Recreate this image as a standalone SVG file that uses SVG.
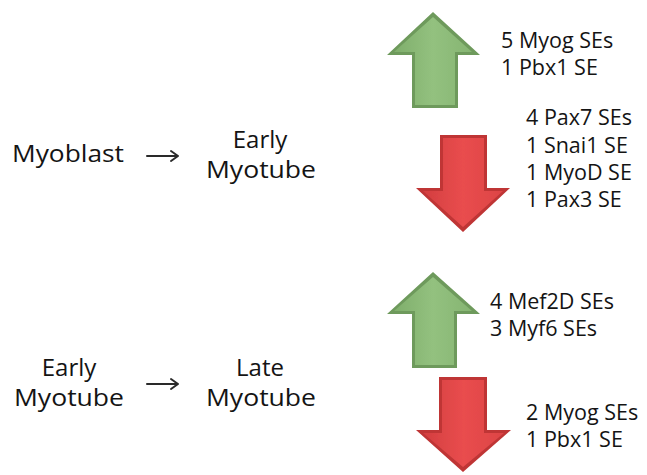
<svg xmlns="http://www.w3.org/2000/svg" width="647" height="475" viewBox="0 0 647 475">
  <defs>
    <linearGradient id="gGreen" x1="0" y1="0" x2="1" y2="0">
      <stop offset="0" stop-color="#7fae6b"/>
      <stop offset="0.5" stop-color="#93c17f"/>
      <stop offset="1" stop-color="#86b572"/>
    </linearGradient>
    <linearGradient id="gRed" x1="0" y1="0" x2="1" y2="0">
      <stop offset="0" stop-color="#d33e3f"/>
      <stop offset="0.5" stop-color="#e94d4e"/>
      <stop offset="1" stop-color="#dd4445"/>
    </linearGradient>
    <filter id="soft" x="-10%" y="-10%" width="120%" height="120%">
      <feGaussianBlur stdDeviation="0.6"/>
    </filter>
  </defs>
  <style>
    .lbl { font-family: "Open Sans", "Liberation Sans", sans-serif; fill: #141414; }
    .big { font-size: 24px; }
    .small { font-size: 21.5px; }
    .upEdge { fill: #6e9a5c; }
    .upFace { fill: url(#gGreen); }
    .dnEdge { fill: #bf3536; }
    .dnFace { fill: url(#gRed); }
    .conn { fill: none; stroke: #2a2a2a; stroke-width: 2; stroke-linecap: round; stroke-linejoin: round; }
  </style>
  <rect width="647" height="475" fill="#ffffff"/>

  <!-- stage nodes -->
  <g id="myoblast">
    <text class="lbl big" x="12" y="162" textLength="112" lengthAdjust="spacingAndGlyphs">Myoblast</text>
  </g>
  <g id="early-myotube-1">
    <text class="lbl big" x="260" y="148" text-anchor="middle">Early</text>
    <text class="lbl big" x="261" y="178" text-anchor="middle" textLength="110" lengthAdjust="spacingAndGlyphs">Myotube</text>
  </g>
  <g id="early-myotube-2">
    <text class="lbl big" x="69" y="376" text-anchor="middle">Early</text>
    <text class="lbl big" x="69" y="406" text-anchor="middle" textLength="110" lengthAdjust="spacingAndGlyphs">Myotube</text>
  </g>
  <g id="late-myotube">
    <text class="lbl big" x="260" y="376" text-anchor="middle">Late</text>
    <text class="lbl big" x="261" y="406" text-anchor="middle" textLength="110" lengthAdjust="spacingAndGlyphs">Myotube</text>
  </g>

  <!-- transitions -->
  <g id="connectors">
    <path class="conn" d="M147 156 H178 M171 151 L178 156 L171 161"/>
    <path class="conn" d="M147 384 H178 M171 379 L178 384 L171 389"/>
  </g>

  <!-- super-enhancer change arrows -->
  <g id="up-1" filter="url(#soft)">
    <polygon class="upEdge" points="433,12 480,55 458,55 458,108 412,108 412,55 387,55"/>
    <polygon class="upFace" points="433,17 472,52 455,52 455,105 415,105 415,52 394,52"/>
  </g>
  <g id="down-1" filter="url(#soft)">
    <polygon class="dnEdge" points="440,135 487,135 487,188 510,188 463,232 416,188 440,188"/>
    <polygon class="dnFace" points="443,138 484,138 484,191 503,191 463,227 423,191 443,191"/>
  </g>
  <g id="up-2" filter="url(#soft)">
    <polygon class="upEdge" points="433,272 480,314 457,314 457,368 412,368 412,314 387,314"/>
    <polygon class="upFace" points="433,277 472,311 454,311 454,365 415,365 415,311 394,311"/>
  </g>
  <g id="down-2" filter="url(#soft)">
    <polygon class="dnEdge" points="439,377 487,377 487,430 511,430 463,472 416,430 439,430"/>
    <polygon class="dnFace" points="442,380 484,380 484,433 504,433 463,467 423,433 442,433"/>
  </g>

  <!-- super-enhancer lists -->
  <g id="se-up-1">
    <text class="lbl small" x="501" y="48">5 Myog SEs</text>
    <text class="lbl small" x="501" y="75">1 Pbx1 SE</text>
  </g>
  <g id="se-down-1">
    <text class="lbl small" x="526" y="125">4 Pax7 SEs</text>
    <text class="lbl small" x="526" y="153">1 Snai1 SE</text>
    <text class="lbl small" x="526" y="180">1 MyoD SE</text>
    <text class="lbl small" x="526" y="207">1 Pax3 SE</text>
  </g>
  <g id="se-up-2">
    <text class="lbl small" x="490" y="309">4 Mef2D SEs</text>
    <text class="lbl small" x="490" y="336">3 Myf6 SEs</text>
  </g>
  <g id="se-down-2">
    <text class="lbl small" x="526" y="420">2 Myog SEs</text>
    <text class="lbl small" x="526" y="447">1 Pbx1 SE</text>
  </g>
</svg>
